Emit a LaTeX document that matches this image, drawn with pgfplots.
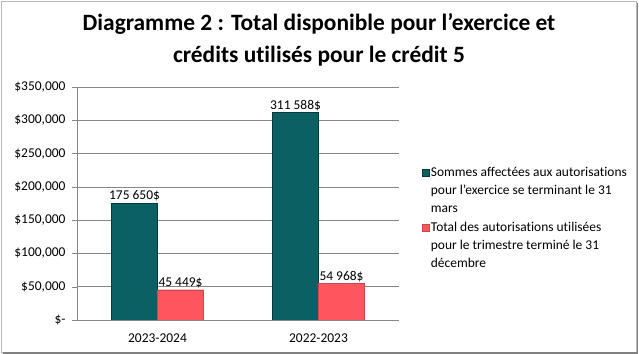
\documentclass[border=0pt]{standalone}
\usepackage{pgfplots}
\pgfplotsset{compat=1.18}
\usepackage{fontspec}
\setmainfont{Carlito}[Ligatures=NoCommon]
\definecolor{tealbar}{RGB}{11,96,100}
\definecolor{redbar}{RGB}{255,85,95}
\definecolor{gridgray}{RGB}{134,134,134}
\begin{document}
\begin{tikzpicture}
\useasboundingbox (-77bp,-34bp) rectangle (562bp,320bp);
\draw[gray!55, line width=0.8bp] (-76bp,-32bp) rectangle (559bp,319bp);
\draw[gray, line width=1.6bp] (560.5bp,317bp) -- (560.5bp,-33.2bp) -- (-74bp,-33.2bp);
\begin{axis}[
  at={(0,0)}, anchor=south west, scale only axis, width=322bp, height=233bp,
  ybar=0pt, bar width=46bp,
  xmin=-0.5, xmax=1.5, ymin=0, ymax=350000,
  scaled y ticks=false,
  axis x line*=bottom, axis y line*=left,
  axis line style={draw=gridgray, -},
  xtick={0,1}, xticklabels={2023-2024,2022-2023},
  x tick style={draw=none},
  extra x ticks={-0.5,0.5,1.5}, extra x tick labels={},
  extra x tick style={grid=none, tick style={draw=gridgray}},
  ytick={0,50000,100000,150000,200000,250000,300000,350000},
  yticklabels={{\$-\hspace{7bp}},{\$50,000},{\$100,000},{\$150,000},{\$200,000},{\$250,000},{\$300,000},{\$350,000}},
  ymajorgrids, grid style={draw=gridgray, line width=0.6bp},
  tick align=outside, major tick length=5bp,
  y tick style={draw=gridgray},
  tick label style={font=\fontsize{13.5}{16}\selectfont},
  /pgf/number format/assume math mode=true,
  xticklabel style={yshift=-5bp},
  yticklabel style={xshift=-3bp},
  point meta=explicit symbolic,
  nodes near coords,
  every node near coord/.append style={font=\fontsize{13.5}{16}\selectfont, text=black, anchor=south, inner sep=1.5bp},
  legend style={at={(axis description cs:1.06,0.672)}, anchor=north west, draw=none, fill=none,
    font=\fontsize{13.5}{18}\selectfont, cells={align=left}, row sep=4bp},
  legend cell align=left,
  legend image code/.code={\fill[#1] (0bp,14.5bp) rectangle (7bp,21.5bp);},
]
\addplot[fill=tealbar, draw=tealbar!60!black] coordinates {(0,175650) [175 650\$] (1,311588) [311 588\$]};
\addplot[fill=redbar, draw=redbar!80!black] coordinates {(0,45449) [45 449\$] (1,54968) [54 968\$]};
\legend{{Sommes affectées aux autorisations\\pour l’exercice se terminant le 31\\mars},{Total des autorisations utilisées\\pour le trimestre terminé le 31\\décembre}}
\end{axis}
\node[font=\bfseries\fontsize{23.5}{27}\selectfont, anchor=base] at (242bp,289bp) {Diagramme 2 : Total disponible pour l’exercice et};
\node[font=\bfseries\fontsize{23.5}{27}\selectfont, anchor=base] at (242bp,257bp) {crédits utilisés pour le crédit 5};
\end{tikzpicture}
\end{document}
